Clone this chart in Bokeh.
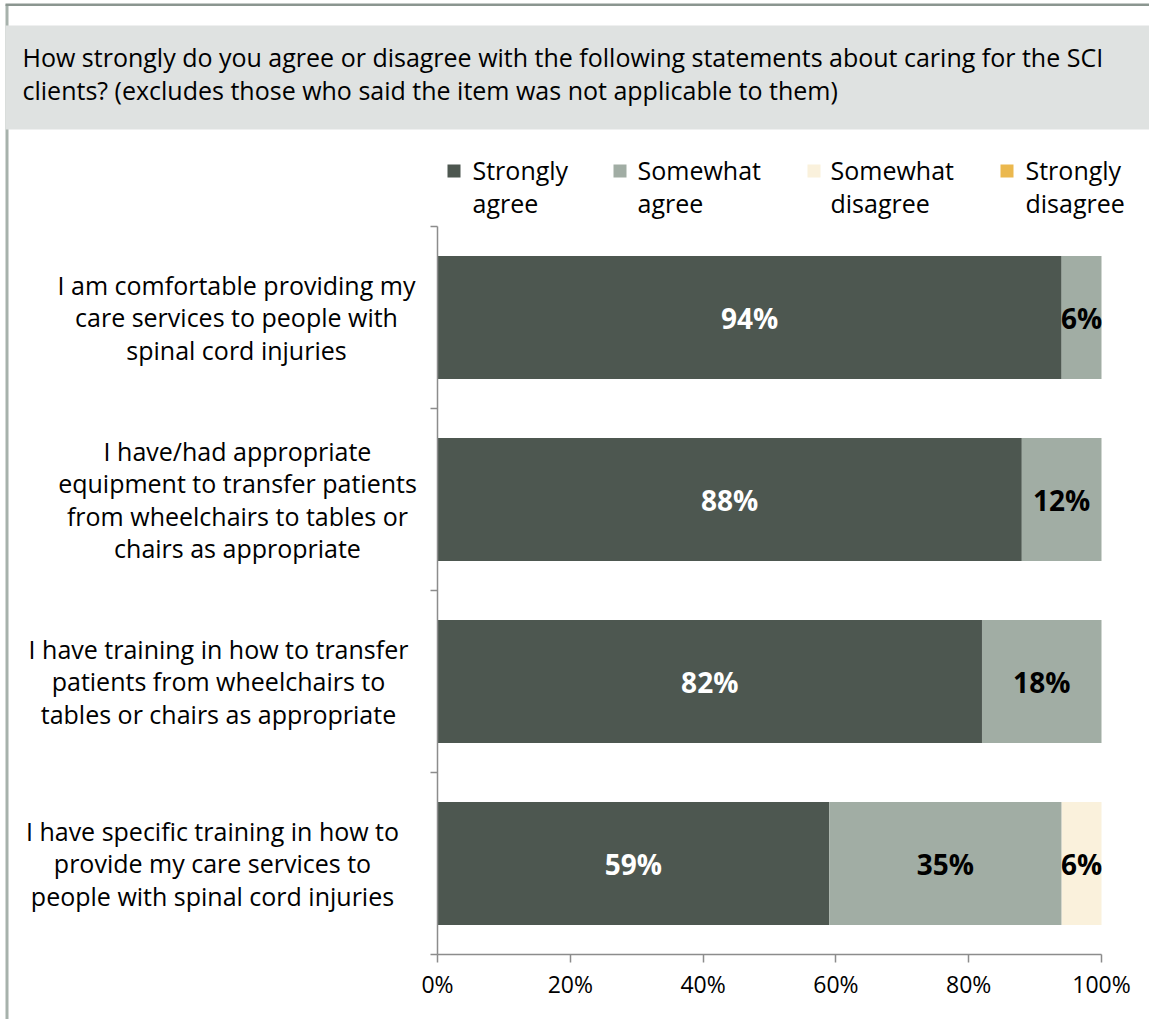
from bokeh.plotting import figure
from bokeh.models import Range1d, FixedTicker, PrintfTickFormatter, ColumnDataSource
from bokeh.core.properties import value
from bokeh.embed import file_html
from bokeh.resources import INLINE

# ---------------- data ----------------
question = ("How strongly do you agree or disagree with the following statements about caring for the SCI\n"
            "clients? (excludes those who said the item was not applicable to them)")
categories = [
    "I am comfortable providing my\ncare services to people with\nspinal cord injuries",
    "I have/had appropriate\nequipment to transfer patients\nfrom wheelchairs to tables or\nchairs as appropriate",
    "I have training in how to transfer\npatients from wheelchairs to\ntables or chairs as appropriate",
    "I have specific training in how to\nprovide my care services to\npeople with spinal cord injuries",
]
series_names = ["Strongly\nagree", "Somewhat\nagree", "Somewhat\ndisagree", "Strongly\ndisagree"]
strongly_agree = [94, 88, 82, 59]
somewhat_agree = [6, 12, 18, 35]
somewhat_disagree = [0, 0, 0, 6]
strongly_disagree = [0, 0, 0, 0]
x_ticks = [0, 20, 40, 60, 80, 100]

# ---------------- layout / styles ----------------
colors = ["#4d5750", "#a1ada4", "#faf1dc", "#ebb84e"]
label_colors = ["white", "black", "black", "black"]
FONT = "Open Sans"
TXT = "25px"
LH = 0.96
W, H = 1149, 1019
AX = "#8c8c8c"
n = len(categories)

# frame covers the whole canvas; the axes are placed inside it
PX0, PX100 = 437, 1101          # pixel of 0% and 100%
PYBOT, PYTOP = 954, 226         # pixel of the category block bottom / top
sx = (PX100 - PX0) / 100.0
sy = (PYBOT - PYTOP) / float(n)
def X(px): return (px - PX0) / sx
def Y(py): return (PYBOT - py) / sy

p = figure(width=W, height=H, x_range=Range1d(X(0), X(W)), y_range=Range1d(Y(H), Y(0)),
           output_backend="svg", toolbar_location=None, min_border=0)
p.outline_line_color = None
p.grid.visible = False
p.background_fill_color = "white"
p.border_fill_color = "white"

# panel decorations
p.quad(left=[X(5)], right=[X(8)], top=[Y(4)], bottom=[Y(H)], fill_color="#a7b2ac", line_color=None)
p.quad(left=[X(5)], right=[X(W)], top=[Y(3)], bottom=[Y(5.5)], fill_color="#8b9690", line_color=None)
p.quad(left=[X(5)], right=[X(W)], top=[Y(25)], bottom=[Y(129)], fill_color="#dfe2e1", line_color=None)
p.text(x=[X(22)], y=[Y(73)], text=[question], text_font=value(FONT), text_font_size=TXT,
       text_color="black", text_align="left", text_baseline="middle", text_line_height=LH)

# bars
ys = [n - i - 0.5 for i in range(n)]
series = [strongly_agree, somewhat_agree, somewhat_disagree, strongly_disagree]
lefts = [0] * n
for s_i, vals in enumerate(series):
    rights = [l + v for l, v in zip(lefts, vals)]
    src = ColumnDataSource(dict(y=ys, left=lefts, right=rights))
    p.hbar(y="y", left="left", right="right", height=123 / sy, source=src,
           fill_color=colors[s_i], line_color=None)
    tx, ty, tt = [], [], []
    for l, r, v, y in zip(lefts, rights, vals, ys):
        if v > 0:
            tx.append((l + r) / 2); ty.append(y); tt.append(f"{v}%")
    if tx:
        p.text(x=tx, y=ty, text=tt, text_font=value(FONT), text_font_style="bold",
               text_font_size="28px", text_color=label_colors[s_i],
               text_align="center", text_baseline="middle")
    lefts = rights

# category labels (block centres, in pixels)
label_centers = [236, 237, 218, 212]
p.text(x=[X(c) for c in label_centers], y=ys, text=categories, text_font=value(FONT),
       text_font_size=TXT, text_color="black", text_align="center", text_baseline="middle",
       text_line_height=LH)

# legend
sq_x = [447, 613, 807, 1000]
txt_x = [472, 637, 830, 1025]
for i, name in enumerate(series_names):
    p.quad(left=[X(sq_x[i])], right=[X(sq_x[i] + 13)], top=[Y(164)], bottom=[Y(177)],
           fill_color=colors[i], line_color=None)
    p.text(x=[X(txt_x[i])], y=[Y(186)], text=[name], text_font=value(FONT), text_font_size=TXT,
           text_color="black", text_align="left", text_baseline="middle", text_line_height=LH)

# axes
xa = p.xaxis[0]
xa.fixed_location = 0
xa.bounds = (0, 100)
xa.ticker = FixedTicker(ticks=x_ticks)
xa.formatter = PrintfTickFormatter(format="%d%%")
xa.axis_line_color = AX
xa.axis_line_width = 1.5
xa.major_tick_line_color = AX
xa.major_tick_line_width = 1.5
xa.major_tick_out = 8
xa.major_tick_in = 0
xa.minor_tick_line_color = None
xa.major_label_text_font = FONT
xa.major_label_text_font_size = "23px"
xa.major_label_text_color = "black"
xa.major_label_standoff = 5

ya = p.yaxis[0]
ya.fixed_location = 0
ya.bounds = (0, n)
ya.ticker = FixedTicker(ticks=[], minor_ticks=list(range(n + 1)))
ya.axis_line_color = AX
ya.axis_line_width = 1.5
ya.major_tick_line_color = None
ya.minor_tick_line_color = AX
ya.minor_tick_line_width = 1.5
ya.minor_tick_out = 7
ya.minor_tick_in = 0
ya.major_label_text_color = None

open("out.html", "w").write(file_html(p, INLINE))
